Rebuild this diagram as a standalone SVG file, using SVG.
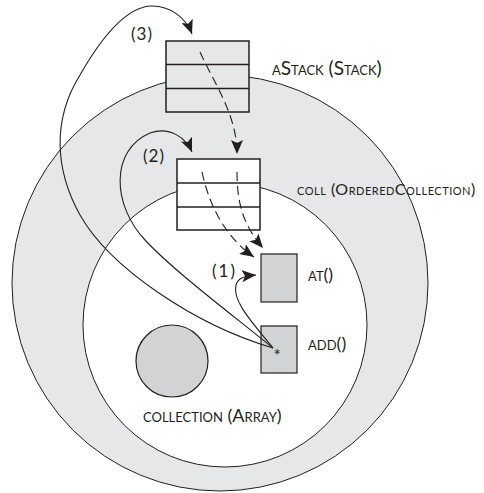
<svg xmlns="http://www.w3.org/2000/svg" width="484" height="493" viewBox="0 0 484 493">
<style>
.lbl{font-family:Lato,"Open Sans","Liberation Sans",sans-serif;font-size:18px;font-variant:small-caps;fill:#231f20}
.num{font-family:Lato,"Open Sans","Liberation Sans",sans-serif;font-size:17px;fill:#231f20}
.ring{fill:#e6e7e8;stroke:#231f20;stroke-width:1}
.inner{fill:#ffffff;stroke:#231f20;stroke-width:1}
.box{stroke:#231f20;stroke-width:1.5}
.meth{fill:#d1d3d4;stroke:#231f20;stroke-width:1.2}
.con{fill:none;stroke:#231f20;stroke-width:1.1}
.dash{fill:none;stroke:#231f20;stroke-width:1.1;stroke-dasharray:9 5}
</style>
<defs>
<marker id="ah" markerUnits="userSpaceOnUse" viewBox="0 0 14 12" refX="14" refY="6" markerWidth="14" markerHeight="12" orient="auto">
<path d="M0,0 L14,6 L0,12 L3,6 z" fill="#231f20"/>
</marker>
</defs>
<g id="aStack">
<circle class="ring" cx="220" cy="283" r="208"/>
<text class="lbl" x="272" y="75" style="font-size:19px">aStack (Stack)</text>
</g>
<g id="coll">
<circle class="inner" cx="225" cy="325" r="142"/>
<text class="lbl" x="297" y="195" style="font-size:16px;letter-spacing:0.5px">coll (OrderedCollection)</text>
</g>
<g id="aStackBox">
<rect class="box" x="166" y="41" width="83" height="71" fill="#e6e7e8"/>
<line class="box" x1="166" y1="64.5" x2="249" y2="64.5"/>
<line class="box" x1="166" y1="88.5" x2="249" y2="88.5"/>
</g>
<g id="collBox">
<rect class="box" x="177" y="159" width="83" height="71" fill="#ffffff"/>
<line class="box" x1="177" y1="183" x2="260" y2="183"/>
<line class="box" x1="177" y1="207" x2="260" y2="207"/>
</g>
<g id="at">
<rect class="meth" x="261" y="254" width="36" height="48"/>
<text class="lbl" x="308" y="281">at()</text>
</g>
<g id="add">
<rect class="meth" x="261" y="326" width="36" height="47"/>
<text class="lbl" x="308" y="350">add()</text>
<text class="num" x="277" y="362" text-anchor="middle">*</text>
</g>
<g id="collection">
<circle class="meth" cx="172" cy="361" r="36"/>
<text class="lbl" x="143" y="422">collection (Array)</text>
</g>
<g id="connectors">
<path class="con" d="M273,348 C195,325 110,268 80,215 C55,170 52,120 80,75 C100,40 125,8 150,6 C170,5 186,18 192,34" marker-end="url(#ah)"/>
<path class="con" d="M273,348 C230,313 175,272 145,240 C112,205 110,150 150,133 C170,126 186,138 192,152" marker-end="url(#ah)"/>
<path class="con" d="M273,348 C250,320 232,300 236,285 C238,278 244,276 256,275" marker-end="url(#ah)"/>
<path class="dash" d="M200,52 C215,85 237,115 237,154" marker-end="url(#ah)"/>
<path class="dash" d="M202,172 C208,200 222,235 254,257" marker-end="url(#ah)"/>
<path class="dash" d="M237,172 C237,205 244,226 263,248" marker-end="url(#ah)"/>
<text class="num" x="131" y="40" style="letter-spacing:1px">(3)</text>
<text class="num" x="143" y="162" style="letter-spacing:1px">(2)</text>
<text class="num" x="212" y="277" style="letter-spacing:2px">(1)</text>
</g>
</svg>
